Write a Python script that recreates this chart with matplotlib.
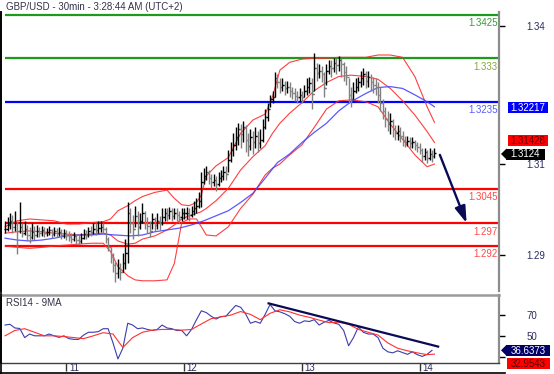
import matplotlib
matplotlib.use("Agg")
import matplotlib.pyplot as plt
from matplotlib.lines import Line2D
from matplotlib.patches import Rectangle, Polygon
from matplotlib.transforms import IdentityTransform
import numpy as np

plt.rcParams['font.family'] = ['Liberation Sans', 'DejaVu Sans']

# ---------------- data ----------------
title = "GBP/USD - 30min - 3:28:44 AM (UTC+2)"
rsi_title = "RSI14 - 9MA"

first_bar = -25                      # bar index of first candle (0 = day 11, 00:00)
day_ticks = [0, 48, 96, 144]
day_labels = ["11", "12", "13", "14"]

close = [
    1.2957, 1.2966, 1.2975, 1.2962, 1.2970, 1.2953, 1.2962, 1.2948, 1.2957, 1.2944,
    1.2940, 1.2951, 1.2944, 1.2953, 1.2948, 1.2955, 1.2948, 1.2951, 1.2955, 1.2946,
    1.2953, 1.2948, 1.2951, 1.2944, 1.2948,
    1.2944, 1.2940, 1.2935, 1.2942, 1.2933, 1.2931, 1.2937, 1.2946, 1.2944, 1.2953,
    1.2951, 1.2957, 1.2955, 1.2959, 1.2962, 1.2957, 1.2935, 1.2917, 1.2895, 1.2878,
    1.2860, 1.2873, 1.2864, 1.2882, 1.2904, 1.2993, 1.2970, 1.2957, 1.2986, 1.2962,
    1.2975, 1.2993, 1.2970, 1.2964, 1.2953, 1.2979, 1.2966, 1.2975, 1.2970, 1.2984,
    1.2993, 1.2988, 1.2997, 1.2986, 1.2993, 1.2988, 1.2984, 1.2991, 1.2993,
    1.2993, 1.2988, 1.2997, 1.3002, 1.3008, 1.3019, 1.3059, 1.3072, 1.3081, 1.3068,
    1.3059, 1.3064, 1.3055, 1.3068, 1.3072, 1.3081, 1.3077, 1.3108, 1.3130, 1.3141,
    1.3157, 1.3175, 1.3164, 1.3179, 1.3152, 1.3139, 1.3157, 1.3148, 1.3161, 1.3144,
    1.3152, 1.3179, 1.3201, 1.3219, 1.3241, 1.3246, 1.3286, 1.3277, 1.3268, 1.3272,
    1.3264, 1.3268, 1.3259, 1.3255, 1.3248, 1.3246, 1.3250, 1.3246,
    1.3259, 1.3268, 1.3275, 1.3252, 1.3308, 1.3297, 1.3303, 1.3295, 1.3264, 1.3303,
    1.3312, 1.3308, 1.3319, 1.3315, 1.3326, 1.3317, 1.3299, 1.3290, 1.3250, 1.3241,
    1.3259, 1.3268, 1.3277, 1.3286, 1.3295, 1.3281, 1.3290, 1.3277, 1.3272, 1.3268,
    1.3250, 1.3232, 1.3215, 1.3197, 1.3186, 1.3193, 1.3175, 1.3166, 1.3170, 1.3161,
    1.3152, 1.3148, 1.3150, 1.3144, 1.3146, 1.3141, 1.3137, 1.3130, 1.3117, 1.3126,
    1.3112, 1.3121, 1.3117, 1.3124,
]
high = [
    1.2975, 1.2984, 1.2993, 1.2988, 1.2997, 1.2975, 1.3015, 1.2970, 1.2975, 1.2966,
    1.2962, 1.2970, 1.2964, 1.2966, 1.2962, 1.2964, 1.2962, 1.2959, 1.2964, 1.2957,
    1.2962, 1.2959, 1.2962, 1.2957, 1.2957,
    1.2955, 1.2953, 1.2948, 1.2951, 1.2946, 1.2944, 1.2948, 1.2957, 1.2955, 1.2962,
    1.2964, 1.2970, 1.2970, 1.2975, 1.2975, 1.2970, 1.2962, 1.2940, 1.2917, 1.2904,
    1.2886, 1.2891, 1.2882, 1.2904, 1.2935, 1.3015, 1.3002, 1.2988, 1.3008, 1.2997,
    1.2993, 1.3013, 1.2997, 1.2984, 1.2975, 1.2993, 1.2984, 1.2991, 1.2986, 1.3002,
    1.3004, 1.3002, 1.3006, 1.3002, 1.3004, 1.3002, 1.2997, 1.3002, 1.3004,
    1.3006, 1.3002, 1.3008, 1.3019, 1.3024, 1.3037, 1.3081, 1.3090, 1.3095, 1.3086,
    1.3077, 1.3077, 1.3072, 1.3081, 1.3086, 1.3095, 1.3095, 1.3130, 1.3148, 1.3166,
    1.3179, 1.3188, 1.3186, 1.3193, 1.3184, 1.3166, 1.3175, 1.3170, 1.3179, 1.3170,
    1.3175, 1.3197, 1.3219, 1.3232, 1.3250, 1.3259, 1.3299, 1.3295, 1.3286, 1.3286,
    1.3281, 1.3281, 1.3277, 1.3268, 1.3264, 1.3259, 1.3264, 1.3259,
    1.3272, 1.3286, 1.3290, 1.3286, 1.3341, 1.3319, 1.3317, 1.3312, 1.3299, 1.3317,
    1.3326, 1.3326, 1.3330, 1.3330, 1.3335, 1.3330, 1.3321, 1.3312, 1.3286, 1.3268,
    1.3277, 1.3286, 1.3290, 1.3303, 1.3308, 1.3303, 1.3303, 1.3295, 1.3290, 1.3286,
    1.3277, 1.3268, 1.3241, 1.3223, 1.3215, 1.3210, 1.3197, 1.3184, 1.3184, 1.3179,
    1.3170, 1.3161, 1.3161, 1.3157, 1.3157, 1.3152, 1.3148, 1.3144, 1.3135, 1.3135,
    1.3130, 1.3135, 1.3130, 1.3135,
]
low = [
    1.2948, 1.2953, 1.2957, 1.2948, 1.2953, 1.2902, 1.2948, 1.2940, 1.2944, 1.2931,
    1.2926, 1.2935, 1.2933, 1.2940, 1.2940, 1.2942, 1.2940, 1.2942, 1.2944, 1.2937,
    1.2942, 1.2940, 1.2942, 1.2935, 1.2937,
    1.2933, 1.2931, 1.2926, 1.2931, 1.2924, 1.2924, 1.2926, 1.2935, 1.2935, 1.2940,
    1.2942, 1.2946, 1.2944, 1.2948, 1.2951, 1.2946, 1.2926, 1.2908, 1.2882, 1.2864,
    1.2842, 1.2851, 1.2846, 1.2864, 1.2869, 1.2882, 1.2948, 1.2935, 1.2962, 1.2942,
    1.2957, 1.2970, 1.2957, 1.2948, 1.2940, 1.2957, 1.2953, 1.2957, 1.2955, 1.2966,
    1.2975, 1.2975, 1.2979, 1.2975, 1.2979, 1.2975, 1.2970, 1.2975, 1.2979,
    1.2979, 1.2975, 1.2984, 1.2988, 1.2993, 1.3004, 1.3006, 1.3055, 1.3064, 1.3055,
    1.3046, 1.3050, 1.3041, 1.3050, 1.3059, 1.3064, 1.3064, 1.3081, 1.3104, 1.3117,
    1.3130, 1.3141, 1.3135, 1.3148, 1.3126, 1.3117, 1.3130, 1.3121, 1.3135, 1.3126,
    1.3135, 1.3148, 1.3175, 1.3193, 1.3223, 1.3232, 1.3246, 1.3264, 1.3255, 1.3259,
    1.3250, 1.3255, 1.3246, 1.3241, 1.3237, 1.3232, 1.3237, 1.3232,
    1.3246, 1.3250, 1.3255, 1.3219, 1.3259, 1.3281, 1.3286, 1.3277, 1.3246, 1.3272,
    1.3295, 1.3290, 1.3299, 1.3295, 1.3303, 1.3290, 1.3281, 1.3272, 1.3232, 1.3223,
    1.3241, 1.3255, 1.3259, 1.3268, 1.3272, 1.3264, 1.3268, 1.3259, 1.3255, 1.3250,
    1.3232, 1.3215, 1.3197, 1.3179, 1.3170, 1.3164, 1.3157, 1.3152, 1.3152, 1.3148,
    1.3139, 1.3137, 1.3139, 1.3135, 1.3135, 1.3130, 1.3126, 1.3121, 1.3104, 1.3108,
    1.3102, 1.3108, 1.3104, 1.3112,
]

# Bollinger bands (20) and moving average, read at sample bars
band_t = [-25, -20, -15, -10, -5, 0, 5, 10, 15, 18, 21, 25, 28, 31, 36, 41, 44, 47, 50, 53, 55,
          57, 61, 66, 71, 76, 81, 84, 87, 91, 96, 101, 106, 111, 116, 122, 127, 132, 137, 142,
          147, 150]
bb_upper = [1.2962, 1.2975, 1.2979, 1.2977, 1.2975, 1.2968, 1.2968, 1.2971, 1.2973, 1.2979,
            1.2997, 1.3008, 1.3019, 1.3028, 1.3037, 1.3042, 1.3024, 1.3010, 1.3008, 1.3015,
            1.3031, 1.3073, 1.3095, 1.3113, 1.3166, 1.3195, 1.3208, 1.3246, 1.3304, 1.3321,
            1.3328, 1.3330, 1.3330, 1.3332, 1.3332, 1.3332, 1.3337, 1.3337, 1.3332, 1.3290,
            1.3224, 1.3190]
bb_mid = [1.2948, 1.2951, 1.2953, 1.2951, 1.2948, 1.2946, 1.2944, 1.2946, 1.2948, 1.2944,
          1.2931, 1.2924, 1.2926, 1.2935, 1.2942, 1.2955, 1.2966, 1.2979, 1.2986, 1.2991,
          1.2995, 1.3002, 1.3019, 1.3046, 1.3086, 1.3115, 1.3139, 1.3166, 1.3188, 1.3210,
          1.3233, 1.3259, 1.3277, 1.3290, 1.3293, 1.3290, 1.3284, 1.3264, 1.3237, 1.3206,
          1.3170, 1.3146]
bb_lower = [1.2920, 1.2917, 1.2915, 1.2917, 1.2920, 1.2922, 1.2924, 1.2926, 1.2926, 1.2908,
            1.2875, 1.2855, 1.2846, 1.2844, 1.2844, 1.2846, 1.2882, 1.2971, 1.2979, 1.2979,
            1.2962, 1.2944, 1.2942, 1.2962, 1.3002, 1.3033, 1.3075, 1.3090, 1.3099, 1.3119,
            1.3141, 1.3179, 1.3219, 1.3237, 1.3239, 1.3235, 1.3224, 1.3186, 1.3153, 1.3119,
            1.3093, 1.3099]

ma_t = [-25, -20, -15, -10, -5, 0, 5, 10, 15, 20, 26, 31, 36, 41, 46, 51, 56, 61, 66, 71, 76,
        81, 86, 91, 96, 101, 106, 111, 116, 122, 127, 132, 137, 142, 147, 150]
ma_blue = [1.2937, 1.2933, 1.2931, 1.2933, 1.2937, 1.2942, 1.2944, 1.2944, 1.2946, 1.2944,
           1.2942, 1.2944, 1.2951, 1.2955, 1.2959, 1.2966, 1.2975, 1.2986, 1.2997, 1.3015,
           1.3035, 1.3068, 1.3102, 1.3121, 1.3146, 1.3168, 1.3188, 1.3215, 1.3235, 1.3253,
           1.3266, 1.3268, 1.3264, 1.3250, 1.3235, 1.3224]

levels = [1.3425, 1.333, 1.3235, 1.3045, 1.297, 1.292]
level_labels = ["1.3425", "1.333", "1.3235", "1.3045", "1.297", "1.292"]
level_line_colors = ["#1c9a1c", "#1c9a1c", "#0000ff", "#ff0000", "#ff0000", "#ff0000"]
level_text_colors = ["#3a9a3a", "#8aa640", "#5a5aff", "#ff4a4a", "#ff4a4a", "#ff4a4a"]

price_ticks = [1.34, 1.31, 1.29]
price_tick_labels = ["1.34", "1.31", "1.29"]

ma_value, ma_value_label = 1.32217, "1.32217"
mid_value, mid_value_label = 1.31428, "1.31428"
last_value, last_value_label = 1.3124, "1.3124"

arrow_from = (152.2, 1.3119)
arrow_to = (163.1, 1.297)

# RSI(14) and its 9-period MA
rsi_t = list(range(-25, 150, 2))
rsi = [60.8, 61.5, 58.0, 57.5, 48.8, 52.2, 50.5, 50.5, 50.5, 52.2, 50.5, 49.0, 50.5, 47.8,
       47.1, 47.1, 51.2, 53.9, 53.9, 54.5, 57.3, 57.3, 43.7, 28.4, 38.6, 62.5, 60.8, 57.3,
       58.0, 56.6, 55.6, 56.6, 60.8, 58.0, 57.3, 55.6, 55.6, 50.5, 56.6, 65.8, 74.4, 72.7,
       69.2, 66.5, 68.9, 69.2, 74.4, 79.5, 77.8, 71.6, 62.5, 64.2, 62.5, 71.0, 80.4, 74.4,
       73.4, 71.6, 69.2, 64.2, 62.5, 64.8, 64.2, 65.9, 60.8, 63.5, 65.2, 62.8, 61.5, 55.6,
       41.0, 48.8, 59.0, 53.9, 52.2, 52.2, 48.8, 38.6, 35.2, 34.2, 36.2, 34.5, 32.8, 35.2,
       32.5, 30.8, 32.8, 36.6]
rsi_ma_t = [-25, -21, -17, -13, -9, -5, -1, 3, 7, 11, 15, 19, 23, 27, 31, 35, 39, 43, 47, 51,
            55, 59, 63, 67, 71, 75, 79, 83, 87, 91, 95, 99, 103, 107, 111, 115, 119, 123, 127,
            131, 135, 139, 143, 147, 150]
rsi_ma = [50.5, 55.6, 57.3, 53.9, 50.5, 50.5, 49.8, 48.8, 47.8, 50.5, 53.5, 52.2, 39.3, 48.8,
          53.9, 55.9, 56.6, 56.6, 55.9, 56.6, 61.8, 66.9, 68.6, 70.3, 73.7, 71.0, 65.9, 72.0,
          75.4, 73.4, 70.3, 68.2, 65.5, 63.1, 63.5, 61.5, 56.6, 53.9, 51.2, 43.7, 38.6, 36.2,
          34.2, 32.5, 33.0]
rsi_ticks = [30, 50, 70]
rsi_tick_labels = ["", "50", "70"]
rsi_value, rsi_value_label = 36.6373, "36.6373"
rsi_ma_label = "32.9543"
rsi_trend_t = [82.4, 151.5]
rsi_trend_v = [81.5, 40.2]

# ---------------- figure ----------------
W, H = 554, 374
fig = plt.figure(figsize=(W / 100, H / 100), dpi=100)
fig.patch.set_facecolor("white")


def rect(x0, y0, x1, y1):
    return [x0 / W, 1 - y1 / H, (x1 - x0) / W, (y1 - y0) / H]


ax = fig.add_axes(rect(1, 12, 499, 291))
rx = fig.add_axes(rect(1, 295, 499, 362.5))
XL = (-26.65, 176.3)

# --- price panel
t = np.arange(first_bar, first_bar + len(close))
c = np.array(close)
o = np.r_[c[0], c[:-1]]
cols = np.where(c >= o, "#000000", "#808080")
ax.vlines(t, low, high, colors=cols, lw=1.0, zorder=4)
ax.hlines(o, t - 0.5, t, colors=cols, lw=1.0, zorder=4)
ax.hlines(c, t, t + 0.5, colors=cols, lw=1.0, zorder=4)

for band in (bb_upper, bb_mid, bb_lower):
    ax.plot(band_t, band, color="#ff2a2a", lw=0.8, alpha=0.9, zorder=3)
ax.plot(ma_t, ma_blue, color="#3c3cff", lw=0.9, alpha=0.85, zorder=3)

for lv, lc in zip(levels, level_line_colors):
    ax.hlines(lv, first_bar, XL[1], colors=lc, lw=1.6, zorder=2)
for lv, lab, tc in zip(levels, level_labels, level_text_colors):
    ax.annotate(lab, xy=(1.0, lv), xycoords=("axes fraction", "data"),
                xytext=(-1, -2.5), textcoords="offset points",
                ha="right", va="top", fontsize=7, color=tc)

ax.annotate("", xy=arrow_to, xytext=arrow_from,
            arrowprops=dict(arrowstyle="-|>,head_length=1.0,head_width=0.32",
                            color="#0b0b55", lw=1.7, shrinkA=0, shrinkB=0), zorder=6)

ax.set_xlim(*XL)
ax.set_ylim(1.282173, 1.343090)
ax.yaxis.tick_right()
ax.set_yticks(price_ticks)
ax.set_yticklabels(price_tick_labels)
ax.tick_params(axis="y", length=4, width=1, direction="out", pad=16,
               labelsize=7, labelcolor="#2b2b5e", color="black")
ax.set_xticks([])
for s in ("top", "bottom"):
    ax.spines[s].set_visible(False)
ax.spines["left"].set_color("black")
ax.spines["left"].set_linewidth(1.2)
ax.spines["right"].set_color("#8c8c8c")
ax.spines["right"].set_linewidth(1.6)

# --- RSI panel
rx.plot(rsi_t, rsi, color="#3c3caa", lw=0.8, zorder=3)
rx.plot(rsi_ma_t, rsi_ma, color="#ff3030", lw=0.8, zorder=3)
rx.plot(rsi_trend_t, rsi_trend_v, color="#0b0b55", lw=1.6, zorder=4)
rx.set_xlim(*XL)
rx.set_ylim(25.0, 89.5)
rx.yaxis.tick_right()
rx.set_yticks(rsi_ticks)
rx.set_yticklabels(rsi_tick_labels)
rx.tick_params(axis="y", length=4, width=1, direction="out", pad=16,
               labelsize=7, labelcolor="#2b2b5e", color="black")
rx.set_xticks(day_ticks)
rx.set_xticklabels([""] * len(day_ticks))
rx.tick_params(axis="x", length=6, width=1, direction="out", color="#333333")
rx.spines["left"].set_color("black")
rx.spines["left"].set_linewidth(1.2)
rx.spines["top"].set_color("#9a9a9a")
rx.spines["top"].set_linewidth(1.8)
rx.spines["right"].set_color("#8c8c8c")
rx.spines["right"].set_linewidth(1.6)
rx.spines["bottom"].set_color("#404040")
rx.spines["bottom"].set_linewidth(1.0)

# --- texts
fig.text(6 / W, 1 - 7.5 / H, title, ha="left", va="center", fontsize=7, color="#333348")
fig.text(6 / W, 1 - 303.5 / H, rsi_title, ha="left", va="center", fontsize=7, color="#333348")

for dt, dl in zip(day_ticks, day_labels):
    xpix = rx.transData.transform((dt, 0))[0]
    fig.text((xpix + 2.5) / W, 1 - 368 / H, dl, ha="left", va="center", fontsize=7,
             color="#2b2b5e")

ident = IdentityTransform()


def tag(axis, val, text, fc, tc, x0, x1, h=11, pointer=0, ypix=None):
    if ypix is None:
        yd = axis.transData.transform((0, val))[1]
    else:
        yd = H - ypix
    fig.add_artist(Rectangle((x0, yd - h / 2), x1 - x0, h, transform=ident,
                             fc=fc, ec=fc, lw=0, zorder=10))
    if pointer:
        fig.add_artist(Polygon([(x0 + 0.5, yd + h / 2), (x0 - pointer, yd), (x0 + 0.5, yd - h / 2)],
                               closed=True, transform=ident, fc=fc, ec=fc, lw=0, zorder=10))
    fig.text((x0 + x1) / 2 / W, (yd - 3.4) / H, text, ha="center", va="baseline",
             fontsize=7, color=tc, zorder=11)


tag(ax, ma_value, ma_value_label, "#0000ff", "white", 508, 548)
tag(ax, mid_value, mid_value_label, "#ff0000", "#6a0000", 508, 548, ypix=140.5)
tag(ax, last_value, last_value_label, "#000000", "white", 506, 545, pointer=5, ypix=154)
tag(rx, rsi_value, rsi_value_label, "#000066", "white", 506, 550, pointer=5)
tag(rx, None, rsi_ma_label, "#ff0000", "#500000", 507, 550, ypix=363.5)

# outer frame (left & bottom)
fig.add_artist(Line2D([0.8, 0.8], [0, H - 12], transform=ident, color="black", lw=1.2))
fig.add_artist(Line2D([0, 505], [0.8, 0.8], transform=ident, color="black", lw=1.2))

fig.savefig("out.png", dpi=100, facecolor="white")
